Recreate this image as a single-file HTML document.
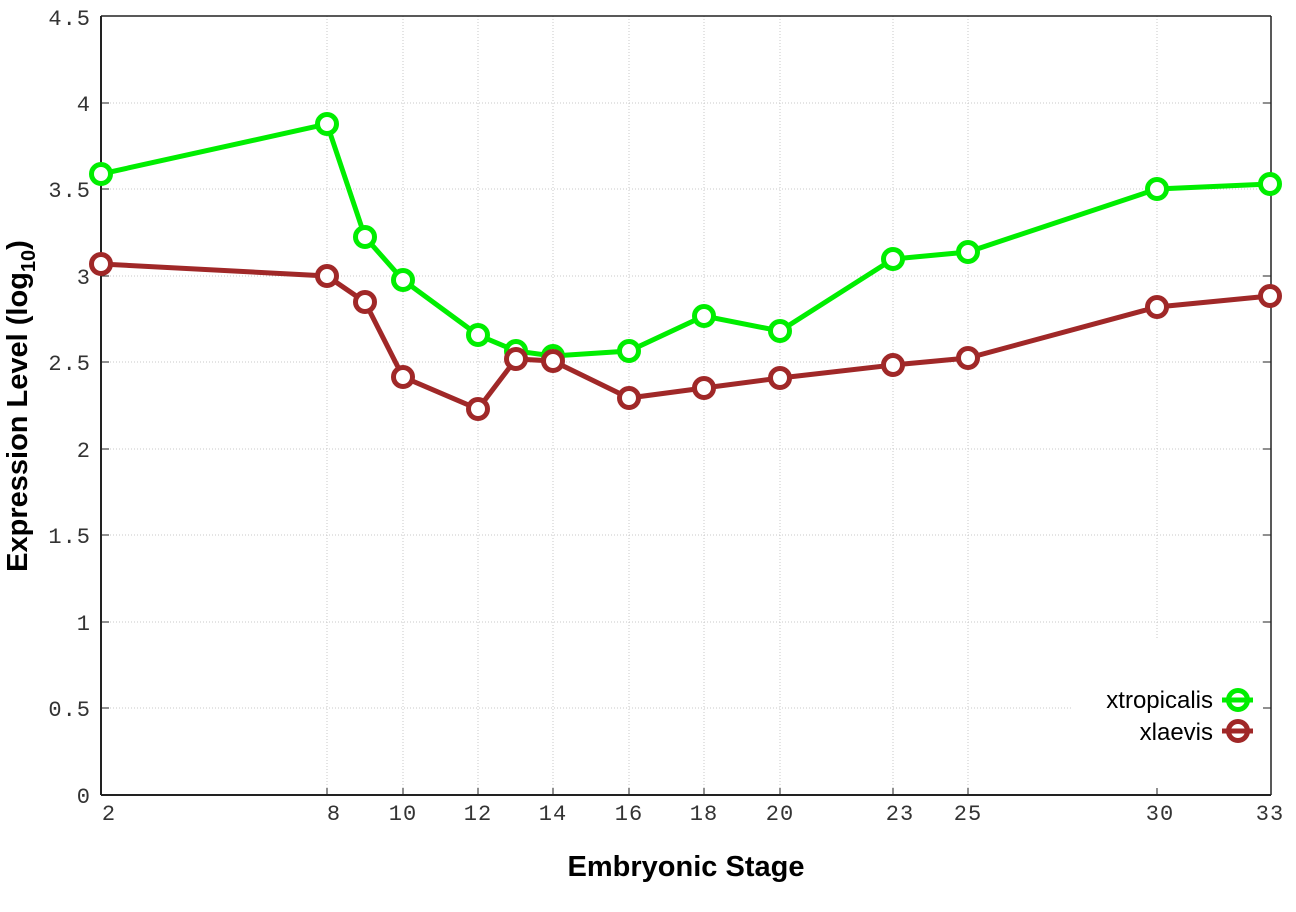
<!DOCTYPE html>
<html><head><style>body{margin:0;background:#fff}</style></head><body>
<svg width="1296" height="907" xmlns="http://www.w3.org/2000/svg">
<rect width="1296" height="907" fill="#fff"/>
<g stroke="#c8c8c8" stroke-width="1" stroke-dasharray="1,2">
<line x1="101" x2="1271" y1="16" y2="16"/>
<line x1="101" x2="1271" y1="103" y2="103"/>
<line x1="101" x2="1271" y1="189" y2="189"/>
<line x1="101" x2="1271" y1="276" y2="276"/>
<line x1="101" x2="1271" y1="362" y2="362"/>
<line x1="101" x2="1271" y1="449" y2="449"/>
<line x1="101" x2="1271" y1="535" y2="535"/>
<line x1="101" x2="1271" y1="622" y2="622"/>
<line x1="101" x2="1071" y1="708" y2="708"/>
<line x1="327" x2="327" y1="16" y2="795"/>
<line x1="403" x2="403" y1="16" y2="795"/>
<line x1="478" x2="478" y1="16" y2="795"/>
<line x1="553" x2="553" y1="16" y2="795"/>
<line x1="629" x2="629" y1="16" y2="795"/>
<line x1="704" x2="704" y1="16" y2="795"/>
<line x1="780" x2="780" y1="16" y2="795"/>
<line x1="893" x2="893" y1="16" y2="795"/>
<line x1="968" x2="968" y1="16" y2="795"/>
<line x1="1157" x2="1157" y1="16" y2="640"/>
</g>
<g stroke="#222" stroke-width="1.5">
<line x1="101" y1="795" x2="1271" y2="795" stroke-width="2"/>
<line x1="101" y1="16" x2="101" y2="795" stroke-width="2"/>
<line x1="1271" y1="16" x2="1271" y2="795"/>
<line x1="101" y1="16" x2="1271" y2="16"/>
</g>
<g stroke="#222" stroke-width="1">
<path d="M101 16h8M101 103h8M101 189h8M101 276h8M101 362h8M101 449h8M101 535h8M101 622h8M101 708h8"/>
<path d="M1271 16h-8M1271 103h-8M1271 189h-8M1271 276h-8M1271 362h-8M1271 449h-8M1271 535h-8M1271 622h-8M1271 708h-8"/>
<path d="M327 795v-7M403 795v-7M478 795v-7M553 795v-7M629 795v-7M704 795v-7M780 795v-7M893 795v-7M968 795v-7M1157 795v-7"/>
</g>
<g font-family="Liberation Mono, monospace" font-size="22" fill="#333" text-anchor="end" letter-spacing="1">
<text x="91" y="25">4.5</text><text x="91" y="111">4</text><text x="91" y="197">3.5</text>
<text x="91" y="284">3</text><text x="91" y="370">2.5</text><text x="91" y="457">2</text>
<text x="91" y="543">1.5</text><text x="91" y="630">1</text><text x="91" y="716">0.5</text><text x="91" y="803">0</text>
</g>
<g font-family="Liberation Mono, monospace" font-size="22" fill="#333" text-anchor="middle" letter-spacing="1">
<text x="109" y="820">2</text><text x="334" y="820">8</text><text x="403" y="820">10</text>
<text x="478" y="820">12</text><text x="553" y="820">14</text><text x="629" y="820">16</text>
<text x="704" y="820">18</text><text x="780" y="820">20</text><text x="900" y="820">23</text>
<text x="968" y="820">25</text><text x="1160" y="820">30</text><text x="1270" y="820">33</text>
</g>
<text x="686" y="876" text-anchor="middle" font-family="Liberation Sans, sans-serif" font-weight="bold" font-size="29" fill="#000">Embryonic Stage</text>
<text transform="translate(27,406) rotate(-90)" text-anchor="middle" font-family="Liberation Sans, sans-serif" font-weight="bold" font-size="29" fill="#000">Expression Level (log<tspan font-size="20" dy="8">10</tspan><tspan dy="-8">)</tspan></text>
<g fill="none" stroke="#00ee00" stroke-width="5">
<polyline points="101,174 327,124 365,237 403,280 478,335 516,351 553,356 629,351 704,316 780,331 893,259 968,252 1157,189 1270,184"/>
<g fill="#fff"><circle cx="101" cy="174" r="9.5"/><circle cx="327" cy="124" r="9.5"/><circle cx="365" cy="237" r="9.5"/><circle cx="403" cy="280" r="9.5"/><circle cx="478" cy="335" r="9.5"/><circle cx="516" cy="351" r="9.5"/><circle cx="553" cy="356" r="9.5"/><circle cx="629" cy="351" r="9.5"/><circle cx="704" cy="316" r="9.5"/><circle cx="780" cy="331" r="9.5"/><circle cx="893" cy="259" r="9.5"/><circle cx="968" cy="252" r="9.5"/><circle cx="1157" cy="189" r="9.5"/><circle cx="1270" cy="184" r="9.5"/></g>
</g>
<g fill="none" stroke="#a02828" stroke-width="5">
<polyline points="101,264 327,276 365,302 403,377 478,409 516,359 553,361 629,398 704,388 780,378 893,365 968,358 1157,307 1270,296"/>
<g fill="#fff"><circle cx="101" cy="264" r="9.5"/><circle cx="327" cy="276" r="9.5"/><circle cx="365" cy="302" r="9.5"/><circle cx="403" cy="377" r="9.5"/><circle cx="478" cy="409" r="9.5"/><circle cx="516" cy="359" r="9.5"/><circle cx="553" cy="361" r="9.5"/><circle cx="629" cy="398" r="9.5"/><circle cx="704" cy="388" r="9.5"/><circle cx="780" cy="378" r="9.5"/><circle cx="893" cy="365" r="9.5"/><circle cx="968" cy="358" r="9.5"/><circle cx="1157" cy="307" r="9.5"/><circle cx="1270" cy="296" r="9.5"/></g>
</g>
<g font-family="Liberation Sans, sans-serif" font-size="24" fill="#000" text-anchor="end">
<text x="1213" y="708">xtropicalis</text><text x="1213" y="740">xlaevis</text>
</g>
<g fill="none" stroke-width="5">
<g stroke="#00ee00"><line x1="1222" y1="700" x2="1253" y2="700"/><circle cx="1238" cy="700" r="9.5"/></g>
<g stroke="#a02828"><line x1="1222" y1="731" x2="1253" y2="731"/><circle cx="1238" cy="731" r="9.5"/></g>
</g>
</svg>
</body></html>
